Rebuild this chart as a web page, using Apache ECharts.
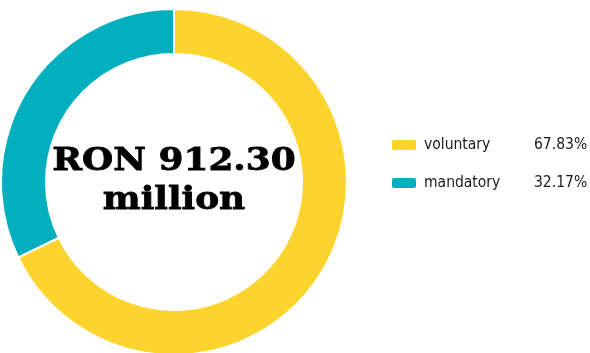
<!DOCTYPE html>
<html>
<head>
<meta charset="utf-8">
<script src="https://cdn.jsdelivr.net/npm/echarts@6/dist/echarts.min.js"></script>
<style>
  html, body { margin: 0; padding: 0; background: #ffffff; }
  #chart { width: 590px; height: 353px; }
</style>
</head>
<body>
<div id="chart"></div>
<script>
// Contribution split of the total amount
const categories = ['voluntary', 'mandatory'];
const shares = [67.83, 32.17];
const colors = ['#FDD42D', '#02AFBF'];
const totalLabel = 'RON 912.30';
const totalUnit = 'million';

const chart = echarts.init(document.getElementById('chart'), null, { renderer: 'canvas' });

const pieData = categories.map((name, i) => ({
  name: name,
  value: shares[i],
  itemStyle: { color: colors[i] }
}));

const legendFont = '"Liberation Sans Narrow", "DejaVu Sans Condensed", Roboto, sans-serif';

chart.setOption({
  animation: false,
  backgroundColor: '#ffffff',
  legend: {
    orient: 'vertical',
    left: 390,
    top: 137,
    padding: 0,
    itemWidth: 26,
    itemHeight: 12,
    itemGap: 22,
    icon: 'roundRect',
    data: categories,
    formatter: function (name) {
      const i = categories.indexOf(name);
      return '{n|' + name + '}{p|' + shares[i].toFixed(2) + '%}';
    },
    textStyle: {
      rich: {
        n: { width: 110, padding: [0, 0, 0, 2], fontSize: 15.5, fontFamily: legendFont, color: '#1a1a1a' },
        p: { fontSize: 15.5, fontFamily: legendFont, color: '#1a1a1a' }
      }
    }
  },
  graphic: [{
    type: 'text',
    x: 174,
    y: 181,
    scaleX: 1.12,
    z: 100,
    style: {
      x: 0,
      y: 0,
      text: totalLabel + '\n' + totalUnit,
      fill: '#000000',
      stroke: '#000000',
      lineWidth: 0.8,
      font: 'bold 32px "DejaVu Serif", serif',
      align: 'center',
      verticalAlign: 'middle',
      lineHeight: 39
    }
  }],
  series: [{
    type: 'pie',
    center: [174, 182],
    radius: [128, 173],
    startAngle: 90,
    clockwise: true,
    avoidLabelOverlap: false,
    label: { show: false },
    labelLine: { show: false },
    emphasis: { disabled: true },
    itemStyle: { borderColor: '#ffffff', borderWidth: 2 },
    data: pieData
  }]
});
</script>
</body>
</html>
